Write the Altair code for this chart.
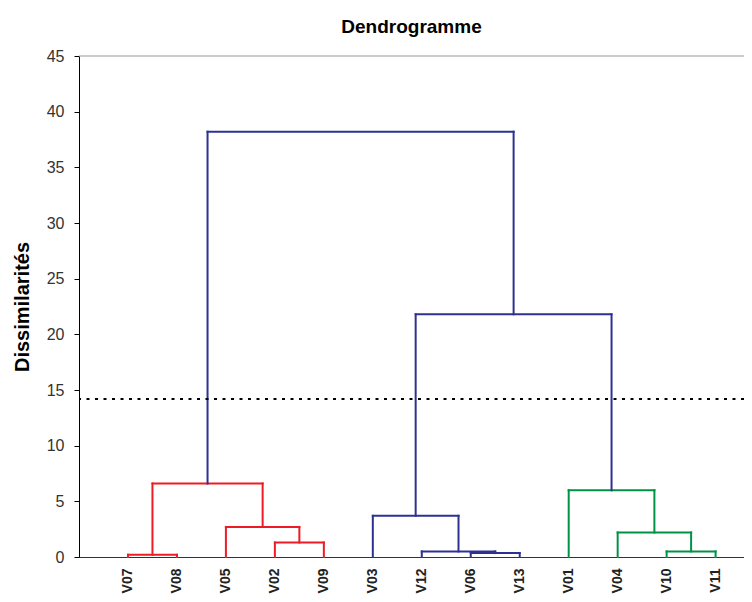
import altair as alt
import pandas as pd

# Leaves in dendrogram order (left to right)
leaves = ["V07", "V08", "V05", "V02", "V09", "V03", "V12", "V06", "V13", "V01", "V04", "V10", "V11"]

# Agglomeration steps: merge k creates node "m{k}"
merge_left = ["V07", "V02", "V05", "m0", "V06", "V12", "V03", "V10", "V04", "V01", "m6", "m3"]
merge_right = ["V08", "V09", "m1", "m2", "V13", "m4", "m5", "V11", "m7", "m8", "m9", "m10"]
merge_height = [0.2, 1.3, 2.7, 6.6, 0.35, 0.5, 3.7, 0.5, 2.2, 6.0, 21.8, 38.2]
merge_group = ["red", "red", "red", "red", "blue", "blue", "blue",
               "green", "green", "green", "blue", "blue"]

cut_height = [14.2]
y_max = [45]
y_ticks = list(range(0, 46, 5))

group_names = ["red", "blue", "green"]
group_colors = ["#ed1c24", "#2e3192", "#009245"]

# Build dendrogram segments from the merge table
node = {name: (i + 1, 0.0) for i, name in enumerate(leaves)}
rows = []
for k, (l, r, h, g) in enumerate(zip(merge_left, merge_right, merge_height, merge_group)):
    xl, hl = node[l]
    xr, hr = node[r]
    rows.append({"x": xl, "x2": xl, "y": hl, "y2": h, "group": g})
    rows.append({"x": xr, "x2": xr, "y": hr, "y2": h, "group": g})
    rows.append({"x": xl, "x2": xr, "y": h, "y2": h, "group": g})
    node[f"m{k}"] = ((xl + xr) / 2, h)
seg = pd.DataFrame(rows)

x_scale = alt.Scale(domain=[0, 13.58], nice=False, zero=False)
y_scale = alt.Scale(domain=[0, y_max[0]], nice=False)
color_scale = alt.Scale(domain=group_names, range=group_colors)

label_expr = "[" + ",".join(f"'{n}'" for n in leaves) + "][round(datum.value) - 1]"

FONT = "Liberation Sans"

lines = alt.Chart(seg).mark_rule(strokeWidth=2, strokeCap="square").encode(
    x=alt.X("x:Q", scale=x_scale,
            axis=alt.Axis(values=list(range(1, len(leaves) + 1)), labelExpr=label_expr,
                          labelAngle=270, labelAlign="right", labelBaseline="middle",
                          labelFontWeight="bold", labelFontSize=14, labelFont=FONT,
                          labelColor="#222222", labelPadding=11, ticks=False, tickSize=0,
                          grid=False, domainColor="#333333", domainWidth=1, title=None)),
    x2="x2:Q",
    y=alt.Y("y:Q", scale=y_scale,
            axis=alt.Axis(values=y_ticks, grid=False, tickSize=5, tickColor="black",
                          domainColor="black", labelFontSize=16, labelFont=FONT,
                          labelColor="#333333", labelPadding=10,
                          title="Dissimilarités", titleFontSize=20, titleFont=FONT,
                          titleFontWeight="bold", titlePadding=14, titleColor="black")),
    y2="y2:Q",
    color=alt.Color("group:N", scale=color_scale, legend=None),
)

frame = alt.Chart(pd.DataFrame({"y": y_max})).mark_rule(color="#999999", strokeWidth=1).encode(
    y=alt.Y("y:Q", scale=y_scale)
)

cut = alt.Chart(pd.DataFrame({"y": cut_height})).mark_rule(
    color="black", strokeWidth=2, strokeDash=[3, 5.5]
).encode(y=alt.Y("y:Q", scale=y_scale))

chart = alt.layer(frame, lines, cut).properties(
    width=665,
    height=501,
    title=alt.Title("Dendrogramme", fontSize=19, fontWeight="bold", font=FONT,
                    offset=11, anchor="middle", color="black"),
    autosize=alt.AutoSizeParams(type="none"),
    padding={"left": 71, "top": 48, "right": 0, "bottom": 37},
).configure_view(stroke=None)

chart.save("out.html", embed_options={"renderer": "svg", "actions": False})
